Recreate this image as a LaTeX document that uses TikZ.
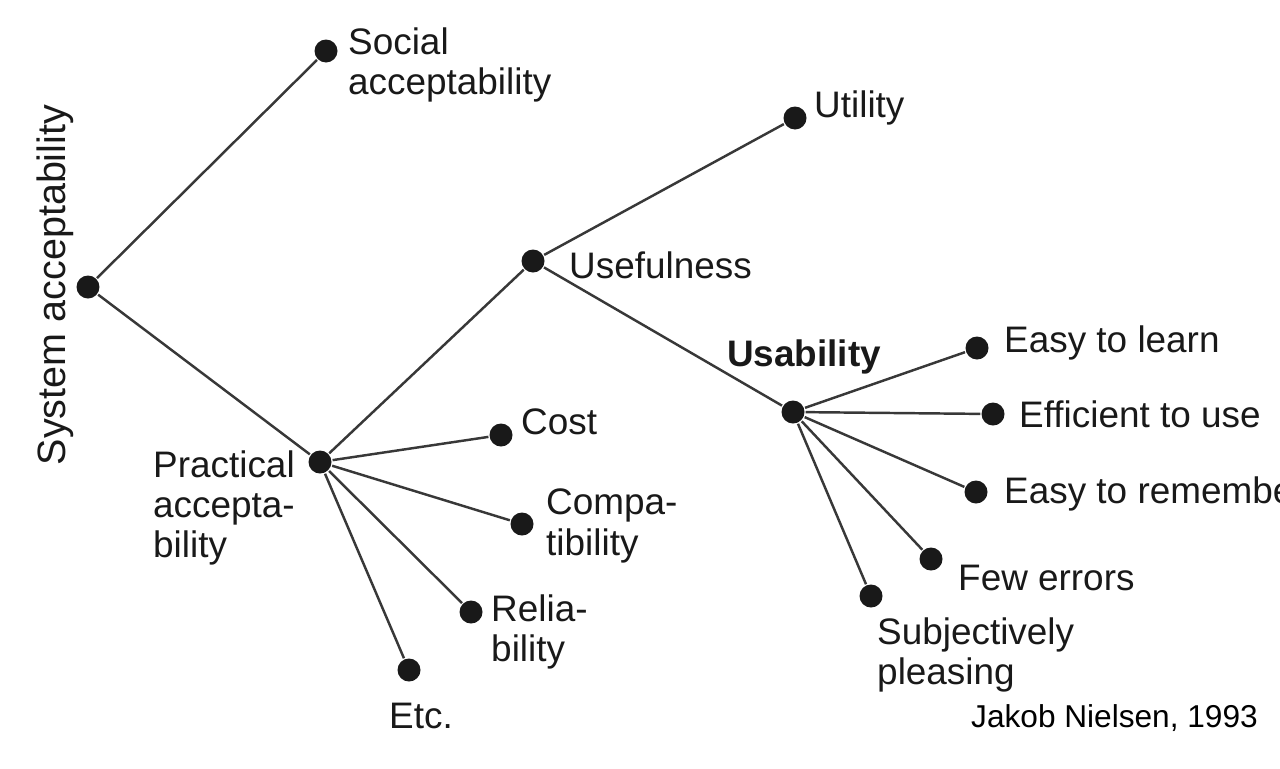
\documentclass[tikz,border=0pt]{standalone}
\usepackage{fontspec}
\setmainfont{Liberation Sans}
\usepackage{tikz}
\definecolor{ink}{gray}{0.1}
\definecolor{wire}{gray}{0.22}

\begin{document}
\begin{tikzpicture}[x=0.02cm, y=-0.02cm, line width=1.4pt,
  dot/.style={circle, fill=ink, inner sep=0pt, minimum size=0.46cm},
  lbl/.style={color=ink, font=\fontsize{21}{23}\selectfont, align=left, inner sep=0pt, anchor=west}]
  \useasboundingbox (0, 0) rectangle (1280, 768);
  % dots
  \node[dot] (sys) at (88, 287) {};
  \node[dot] (soc) at (326, 51) {};
  \node[dot] (prac) at (320, 462) {};
  \node[dot] (usef) at (533, 261) {};
  \node[dot] (util) at (795, 118) {};
  \node[dot] (usab) at (793, 412) {};
  \node[dot] (cost) at (501, 435) {};
  \node[dot] (compat) at (522, 524) {};
  \node[dot] (reli) at (471, 612) {};
  \node[dot] (etc) at (409, 670) {};
  \node[dot] (learn) at (977, 348) {};
  \node[dot] (effic) at (993, 414) {};
  \node[dot] (remem) at (976, 492) {};
  \node[dot] (errors) at (931, 559) {};
  \node[dot] (pleas) at (871, 596) {};
  % labels
  \node[lbl, rotate=90, anchor=center, font=\fontsize{22.5}{25}\selectfont] (syst) at (55, 285) {System acceptability};
  \node[lbl] (soct) at (347, 65) {Social\\acceptability};
  \node[lbl] (pract) at (152, 508) {Practical\\accepta-\\bility};
  \node[lbl] (useft) at (568, 265) {Usefulness};
  \node[lbl] (utilt) at (813, 108) {Utility};
  \node[lbl, font=\fontsize{21}{23}\selectfont\bfseries] (usabt) at (726, 357) {Usability};
  \node[lbl] (costt) at (520, 422) {Cost};
  \node[lbl] (compatt) at (545, 526) {Compa-\\tibility};
  \node[lbl] (relit) at (490, 632) {Relia-\\bility};
  \node[lbl] (etct) at (388, 716) {Etc.};
  \node[lbl] (learnt) at (1003, 343) {Easy to learn};
  \node[lbl] (effict) at (1018, 414) {Efficient to use};
  \node[lbl] (rement) at (1003, 494) {Easy to remember};
  \node[lbl] (errort) at (957, 578) {Few errors};
  \node[lbl] (pleast) at (876, 655) {Subjectively\\pleasing};
  \node[lbl, color=black, font=\fontsize{18}{20}\selectfont] (src) at (970, 718) {Jakob Nielsen, 1993};
  % tree
  \draw[color=wire] (sys) -- (soc);
  \draw[color=wire] (sys) -- (prac);
  \draw[color=wire] (prac) -- (usef);
  \draw[color=wire] (usef) -- (util);
  \draw[color=wire] (usef) -- (usab);
  \foreach \k in {cost, compat, reli, etc}
    \draw[color=wire] (prac) -- (\k);
  \foreach \k in {learn, effic, remem, errors, pleas}
    \draw[color=wire] (usab) -- (\k);
\end{tikzpicture}
\end{document}
